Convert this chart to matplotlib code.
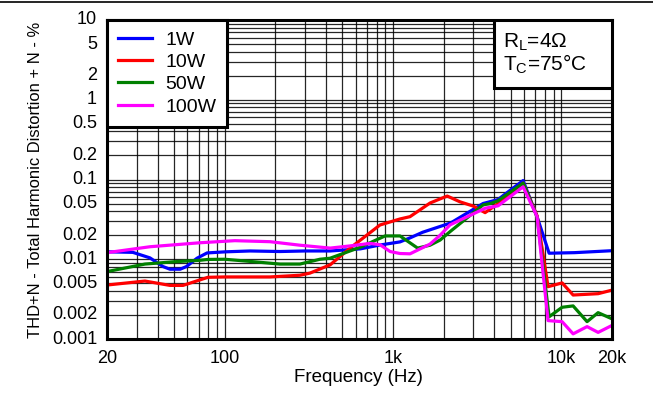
import matplotlib
matplotlib.use("Agg")
import matplotlib.pyplot as plt
from matplotlib.lines import Line2D
from matplotlib.patches import Rectangle
from matplotlib.ticker import FixedLocator, LogLocator, NullFormatter

plt.rcParams['font.family'] = ['Liberation Sans', 'DejaVu Sans']
plt.rcParams['mathtext.fontset'] = 'custom'
plt.rcParams['mathtext.rm'] = 'Liberation Sans'
plt.rcParams['mathtext.it'] = 'Liberation Sans'

# THD+N vs frequency, RL = 4 ohm, Tc = 75 C
freq_1w = [20, 28.5, 36, 43, 47.3, 54.4, 59.3, 68.5, 78.6, 102, 141.5, 213, 300, 423,
           640, 840, 1100, 1260, 1500, 2200, 3430, 4200, 5930, 7180, 8460, 12000, 20000]
thd_1w = [0.0124, 0.0122, 0.0104, 0.0081, 0.0075, 0.0075, 0.0081, 0.0103, 0.012, 0.0124,
          0.0127, 0.0125, 0.0127, 0.0127, 0.0135, 0.0151, 0.0165, 0.0185, 0.0218, 0.0285,
          0.05, 0.056, 0.097, 0.034, 0.0119, 0.0121, 0.0128]

freq_10w = [20, 33.6, 47.3, 56.6, 79.6, 100, 186, 280, 321, 423, 556, 837, 1101, 1262,
            1660, 1900, 2100, 2500, 3000, 3525, 4211, 5930, 7180, 8340, 10110, 11750,
            16540, 20000]
thd_10w = [0.00475, 0.00533, 0.0047, 0.0047, 0.00594, 0.006, 0.006, 0.0063, 0.0067, 0.0085,
           0.0138, 0.0269, 0.032, 0.0342, 0.0507, 0.057, 0.062, 0.0525, 0.0464, 0.0384,
           0.05, 0.09, 0.035, 0.00453, 0.00505, 0.00356, 0.0037, 0.0041]

freq_50w = [20, 33.6, 50, 71, 80, 100, 141, 213, 280, 368, 423, 637, 897, 1101, 1400,
            1660, 1905, 2183, 3430, 3800, 4200, 5930, 7180, 8460, 10110, 11750, 14220,
            16540, 20000]
thd_50w = [0.007, 0.0087, 0.0093, 0.0097, 0.00995, 0.01, 0.0094, 0.0087, 0.0087, 0.01,
           0.0103, 0.0141, 0.0196, 0.0196, 0.0138, 0.015, 0.0174, 0.0222, 0.048, 0.05,
           0.054, 0.09, 0.034, 0.0019, 0.0025, 0.0026, 0.00165, 0.00214, 0.00179]

freq_100w = [20, 36, 71.4, 115, 186, 280, 423, 556, 731, 837, 961, 1101, 1262, 1660, 1905,
             2183, 3525, 4211, 5930, 7180, 8340, 10110, 11750, 14220, 16540, 20000]
thd_100w = [0.0121, 0.01435, 0.0161, 0.0171, 0.0166, 0.015, 0.0138, 0.0147, 0.0158, 0.0152,
            0.0125, 0.0118, 0.0117, 0.0155, 0.02, 0.027, 0.0436, 0.0468, 0.081, 0.0342,
            0.0017, 0.00165, 0.00116, 0.00143, 0.00121, 0.00148]

series_labels = ['1W', '10W', '50W', '100W']
series_colors = ['#0000FF', '#FF0000', '#008000', '#FF00FF']

x_ticks = [20, 100, 1000, 10000, 20000]
x_tick_labels = ['20', '100', '1k', '10k', '20k']
y_ticks = [0.001, 0.002, 0.005, 0.01, 0.02, 0.05, 0.1, 0.2, 0.5, 1, 2, 5, 10]
y_tick_labels = ['0.001', '0.002', '0.005', '0.01', '0.02', '0.05', '0.1', '0.2',
                 '0.5', '1', '2', '5', '10']

W, H = 653, 397
fig = plt.figure(figsize=(W / 100, H / 100), dpi=100)
ax = fig.add_axes([107 / W, 1 - 339 / H, (612 - 107) / W, (339 - 20) / H])

ax.set_xscale('log')
ax.set_yscale('log')
ax.set_xlim(20, 20000)
ax.set_ylim(0.001, 10)

# dense log grid, every 1..9 step of each decade
ax.xaxis.set_major_locator(LogLocator(base=10, subs=range(1, 10), numticks=50))
ax.yaxis.set_major_locator(LogLocator(base=10, subs=range(1, 10), numticks=50))
ax.xaxis.set_minor_locator(FixedLocator([]))
ax.yaxis.set_minor_locator(FixedLocator([]))
ax.grid(True, which='major', color='black', linewidth=0.9, alpha=0.85)
ax.tick_params(which='both', length=0)
ax.xaxis.set_major_formatter(NullFormatter())
ax.yaxis.set_major_formatter(NullFormatter())

# labelled values only
for v, lab in zip(x_ticks, x_tick_labels):
    ax.annotate(lab, xy=(v, 0), xycoords=('data', 'axes fraction'),
                xytext=(0, -11), textcoords='offset pixels',
                ha='center', va='top', fontsize=13)
for v, lab in zip(y_ticks, y_tick_labels):
    ax.annotate(lab, xy=(0, v), xycoords=('axes fraction', 'data'),
                xytext=(-10, 0), textcoords='offset pixels',
                ha='right', va='center', fontsize=13)

for s in ax.spines.values():
    s.set_linewidth(2.2)
    s.set_color('black')

all_freq = [freq_1w, freq_10w, freq_50w, freq_100w]
all_thd = [thd_1w, thd_10w, thd_50w, thd_100w]
for f, v, lab, c in zip(all_freq, all_thd, series_labels, series_colors):
    ax.plot(f, v, color=c, linewidth=2.3, label=lab, solid_joinstyle='round')

leg = ax.legend(loc='upper left', bbox_to_anchor=(0, 1), borderaxespad=0,
                fontsize=14, frameon=True, fancybox=False, framealpha=1,
                edgecolor='black', handlelength=1.75, handletextpad=0.67,
                borderpad=0.57, labelspacing=0.24)
leg.get_frame().set_linewidth(2.2)

# operating-condition box in the top-right corner
box_x0 = (494 - 107) / 505
box_y0 = 1 - (88 - 20) / 319
ax.add_patch(Rectangle((box_x0, box_y0), 1 - box_x0, 1 - box_y0, transform=ax.transAxes,
                       facecolor='white', edgecolor='black', linewidth=2.2, zorder=5))
ax.text((503 - 107) / 505, 1 - (42 - 20) / 319, 'R$_\\mathrm{L}$=4\u03a9',
        transform=ax.transAxes, ha='left', va='center', fontsize=15, zorder=6)
ax.text((503 - 107) / 505, 1 - (64 - 20) / 319, 'T$_\\mathrm{C}$=75\u00b0C',
        transform=ax.transAxes, ha='left', va='center', fontsize=15, zorder=6)

fig.text(358 / W, 1 - 378 / H, 'Frequency (Hz)', ha='center', va='center', fontsize=13.5)
fig.text(36 / W, 1 - 180 / H, 'THD+N - Total Harmonic Distortion + N - %',
         rotation=90, ha='center', va='center', fontsize=11.9)

fig.add_artist(Line2D([0, 1], [1 - 2 / H, 1 - 2 / H], color='black', linewidth=1.2))

fig.savefig('out.png', dpi=100)
